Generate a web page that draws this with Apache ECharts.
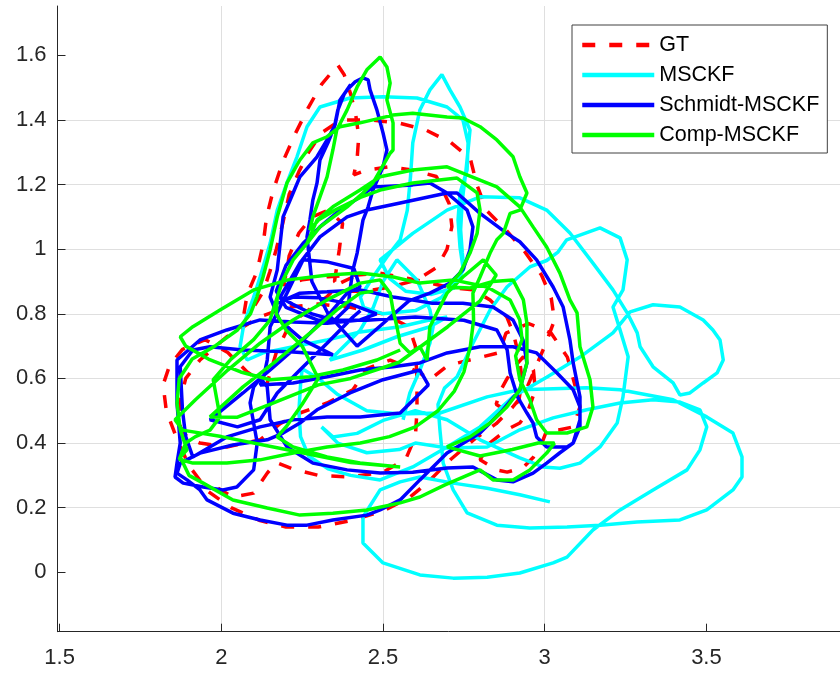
<!DOCTYPE html>
<html><head><meta charset="utf-8">
<script src="https://cdn.jsdelivr.net/npm/echarts@6/dist/echarts.min.js"></script>
<style>html,body{margin:0;padding:0;background:#fff}#c{width:840px;height:673px}</style>
</head><body><div id="c"></div>
<script>
const seriesNames = ['GT', 'MSCKF', 'Schmidt-MSCKF', 'Comp-MSCKF'];
const xTickVals = [1.5, 2, 2.5, 3, 3.5];
const yTickVals = [0, 0.2, 0.4, 0.6, 0.8, 1, 1.2, 1.4, 1.6];

const gt = [
[2.407,0.914],[2.367,0.895],[2.327,0.853],[2.283,0.822],[2.243,0.791],[2.203,0.75],[2.17,0.68],
[2.14,0.58],[2.08,0.62],[2.02,0.68],[1.95,0.72],[1.88,0.69],[1.84,0.64],[1.82,0.58],[1.83,0.5],[1.86,0.42],[1.9,0.33],[1.96,0.25],[2.03,0.2],[2.12,0.16],[2.2,0.14],[2.3,0.14],[2.4,0.16],[2.5,0.19],[2.58,0.23],[2.64,0.28],[2.71,0.35],[2.78,0.41],[2.85,0.46],[2.9,0.51],[2.94,0.56],[2.97,0.63],[3.0,0.7],[3.03,0.78],[3.02,0.85],[2.99,0.92],[2.94,0.99],[2.88,1.06],[2.82,1.12],[2.79,1.2],[2.77,1.28],[2.71,1.33],[2.63,1.37],[2.55,1.39],[2.46,1.4],[2.37,1.4],[2.31,1.36],[2.27,1.3],[2.24,1.24],[2.21,1.17],[2.19,1.08],[2.17,1.0],[2.15,0.93],[2.13,0.87],[2.1,0.82],[2.07,0.8],[2.08,0.86],[2.11,0.93],[2.13,1.02],[2.14,1.1],[2.16,1.18],[2.19,1.27],[2.23,1.36],[2.27,1.44],[2.31,1.51],[2.36,1.57],[2.38,1.54],[2.4,1.48],[2.415,1.42],[2.425,1.35],[2.42,1.28],[2.41,1.23],[2.45,1.245],[2.52,1.255],[2.59,1.245],[2.665,1.225],[2.705,1.14],[2.713,1.07],[2.698,1.0],[2.668,0.945],[2.605,0.905],[2.53,0.885],[2.45,0.87],[2.39,0.87],[2.35,0.9],[2.365,1.0],[2.375,1.08],[2.33,1.12],[2.28,1.1],[2.24,1.05],[2.21,0.98],[2.2,0.92],[2.19,0.89],[2.25,0.905],[2.33,0.915],[2.42,0.92],[2.49,0.926],[2.553,0.914],[2.624,0.9],[2.698,0.883],[2.778,0.874],[2.831,0.843],[2.883,0.79],[2.903,0.74],[2.92,0.67],[2.93,0.6],[2.92,0.53],[2.88,0.5],[2.85,0.52],[2.862,0.56],[2.884,0.6],[2.91,0.64],[2.934,0.667],[2.965,0.626],[2.971,0.565],[2.946,0.493],[2.923,0.462],[2.88,0.44],[2.83,0.4],[2.8,0.348],[2.852,0.317],[2.884,0.31],[2.934,0.325],[2.965,0.356],[2.995,0.41],[3.007,0.441],[3.047,0.441],[3.088,0.45],[3.109,0.512],[3.1,0.555],[3.07,0.666],[3.02,0.74],[2.95,0.77],[2.88,0.74],[2.86,0.68],[2.78,0.66],[2.7,0.64],[2.645,0.596],[2.614,0.617],[2.574,0.636],[2.522,0.657],[2.45,0.63],[2.407,0.565],[2.327,0.524],[2.243,0.493],[2.182,0.46],[2.12,0.41],[2.017,0.388],[1.934,0.4],[1.894,0.419],[1.873,0.45],[1.87,0.52],[1.89,0.6],[1.934,0.657],[2.017,0.729],[2.12,0.791],[2.2,0.82],[2.3,0.83],[2.4,0.82],[2.5,0.8],[2.58,0.76],[2.6,0.7],[2.605,0.6],[2.605,0.5],[2.6,0.42],[2.57,0.35],[2.5,0.31],[2.4,0.295],[2.3,0.3],[2.22,0.32],[2.17,0.34],[2.142,0.307],[2.1,0.245],[2.036,0.233],[1.99,0.26]
];

const msckf = [
[2.562,0.472],[2.583,0.555],[2.614,0.626],[2.645,0.709],[2.655,0.76],[2.645,0.812],[2.605,0.905],[2.543,0.967],[2.5,0.9],[2.47,0.82],[2.43,0.75],[2.336,0.657],[2.438,0.688],[2.543,0.729],[2.645,0.76],[2.698,0.79],[2.64,0.78],
[2.553,0.76],[2.43,0.744],[2.327,0.719],[2.222,0.698],[2.129,0.679],[2.08,0.657],[2.058,0.698],[2.07,0.77],[2.097,0.843],[2.12,0.914],[2.151,1.018],[2.173,1.121],[2.203,1.205],[2.234,1.286],[2.265,1.379],[2.305,1.44],[2.398,1.468],[2.5,1.472],[2.605,1.468],[2.698,1.44],[2.747,1.4],[2.763,1.329],[2.76,1.245],[2.738,1.174],[2.732,1.09],[2.738,1.007],[2.747,0.945],[2.729,0.905],[2.68,0.85],[2.6,0.81],[2.5,0.8],[2.44,0.82],[2.43,0.852],[2.469,0.914],[2.512,0.976],[2.553,1.029],[2.575,1.12],[2.585,1.224],[2.592,1.329],[2.614,1.431],[2.645,1.493],[2.682,1.54],[2.707,1.493],[2.738,1.44],[2.769,1.369],[2.763,1.307],[2.755,1.23],[2.745,1.15],[2.74,1.06],[2.745,0.99],[2.75,0.94],[2.72,0.88],[2.65,0.86],[2.57,0.87],[2.52,0.91],[2.491,0.967],[2.592,1.049],[2.698,1.121],[2.8,1.162],[2.923,1.159],[3.006,1.121],[3.078,1.05],[3.149,0.957],[3.211,0.874],[3.255,0.803],[3.286,0.741],[3.295,0.698],[3.335,0.636],[3.397,0.586],[3.418,0.549],[3.449,0.555],[3.49,0.586],[3.533,0.617],[3.552,0.657],[3.542,0.719],[3.52,0.75],[3.49,0.781],[3.418,0.821],[3.335,0.828],[3.264,0.806],[3.211,0.741],[3.109,0.666],[3.006,0.604],[2.902,0.543],[2.8,0.45],[2.698,0.388],[2.592,0.326],[2.491,0.286],[2.4,0.3],[2.33,0.32],[2.27,0.36],[2.245,0.42],[2.24,0.5],[2.245,0.58],[2.25,0.63],[2.3,0.6],[2.36,0.55],[2.45,0.5],[2.55,0.49],[2.676,0.493],[2.822,0.543],[2.923,0.565],[3.13,0.571],[3.233,0.565],[3.397,0.534],[3.501,0.481],[3.582,0.431],[3.61,0.357],[3.61,0.295],[3.582,0.255],[3.501,0.193],[3.418,0.162],[3.285,0.156],[3.171,0.146],[3.069,0.14],[2.954,0.137],[2.852,0.146],[2.76,0.184],[2.717,0.255],[2.686,0.338],[2.676,0.441],[2.67,0.52],[2.69,0.57],[2.729,0.605],[2.778,0.709],[2.831,0.812],[2.883,0.883],[2.954,0.945],[3.006,0.965],[3.04,0.99],[3.068,1.029],[3.171,1.066],[3.233,1.035],[3.255,0.967],[3.242,0.874],[3.211,0.821],[3.233,0.75],[3.258,0.667],[3.242,0.543],[3.224,0.462],[3.171,0.388],[3.109,0.338],[3.047,0.322],[2.995,0.326],[2.923,0.354],[2.8,0.41],[2.698,0.472],[2.6,0.5],[2.5,0.47],[2.42,0.43],[2.345,0.419],[2.31,0.45],[2.36,0.4],[2.45,0.37],[2.55,0.38],[2.6,0.4],[2.7,0.385],[2.822,0.388],[2.923,0.441],[3.026,0.478],[3.13,0.503],[3.233,0.524],[3.335,0.534],[3.418,0.527],[3.48,0.503],[3.501,0.45],[3.48,0.379],[3.44,0.317],[3.335,0.255],[3.233,0.193],[3.149,0.131],[3.069,0.047],[3.026,0.029],[2.923,-0.002],[2.822,-0.015],[2.717,-0.018],[2.614,-0.008],[2.5,0.029],[2.438,0.091],[2.438,0.171],[2.491,0.255],[2.553,0.28],[2.614,0.295],[2.717,0.276],[2.822,0.26],[2.923,0.24],[3.016,0.218]
];

const schmidt = [
[2.43,0.81],[2.407,0.79],[2.327,0.709],[2.243,0.626],[2.173,0.555],[2.12,0.472],[2.05,0.45],[1.965,0.472],[2.067,0.555],[2.151,0.626],[2.222,0.688],[2.274,0.74],[2.336,0.802],[2.389,0.864],[2.429,0.883],[2.41,0.94],[2.33,0.96],[2.253,0.967],[2.203,0.864],[2.151,0.76],[2.142,0.657],[2.129,0.596],
[2.12,0.58],[2.222,0.586],[2.327,0.605],[2.429,0.626],[2.531,0.636],[2.614,0.648],[2.698,0.679],[2.8,0.698],[2.902,0.698],[2.975,0.679],[3.038,0.617],[3.088,0.565],[3.109,0.512],[3.109,0.45],[3.088,0.4],[3.047,0.37],[3.006,0.338],[2.964,0.307],[2.902,0.28],[2.852,0.286],[2.778,0.326],[2.698,0.323],[2.592,0.31],[2.491,0.307],[2.389,0.317],[2.283,0.338],[2.203,0.388],[2.151,0.472],[2.142,0.574],[2.12,0.6],[2.1,0.574],[2.089,0.524],[2.111,0.4],[2.1,0.317],[2.048,0.264],[2.005,0.255],[1.944,0.264],[1.882,0.276],[1.857,0.295],[1.863,0.338],[1.873,0.4],[1.863,0.524],[1.863,0.62],[1.863,0.657],[1.934,0.719],[2.017,0.75],[2.12,0.781],[2.222,0.775],[2.327,0.771],[2.429,0.781],[2.48,0.8],[2.4,0.83],[2.3,0.85],[2.222,0.852],[2.173,0.833],[2.243,0.864],[2.327,0.868],[2.429,0.874],[2.531,0.852],[2.592,0.843],[2.65,0.833],[2.747,0.833],[2.84,0.821],[2.902,0.781],[2.933,0.719],[2.945,0.648],[2.923,0.565],[2.862,0.493],[2.8,0.431],[2.698,0.369],[2.614,0.286],[2.553,0.224],[2.491,0.193],[2.45,0.177],[2.345,0.162],[2.265,0.146],[2.203,0.146],[2.12,0.162],[2.036,0.183],[1.956,0.224],[1.934,0.255],[1.894,0.286],[1.863,0.307],[1.873,0.338],[1.934,0.369],[2.036,0.394],[2.142,0.41],[2.191,0.431],[2.243,0.462],[2.296,0.503],[2.398,0.555],[2.5,0.596],[2.614,0.626],[2.64,0.58],[2.553,0.493],[2.429,0.481],[2.327,0.481],[2.222,0.472],[2.12,0.45],[2.017,0.419],[1.912,0.357],[1.89,0.42],[1.88,0.5],[1.873,0.636],[1.912,0.688],[1.965,0.698],[2.067,0.688],[2.222,0.682],[2.345,0.673],[2.25,0.72],[2.18,0.78],[2.151,0.852],[2.173,0.936],[2.182,1.018],[2.191,1.1],[2.222,1.174],[2.243,1.224],[2.296,1.286],[2.327,1.338],[2.352,1.385],[2.367,1.462],[2.389,1.493],[2.414,1.518],[2.438,1.53],[2.454,1.524],[2.46,1.493],[2.481,1.431],[2.5,1.36],[2.512,1.307],[2.5,1.255],[2.469,1.183],[2.454,1.131],[2.438,1.09],[2.429,1.038],[2.42,0.988],[2.407,0.936],[2.398,0.874],[2.392,0.82],[2.35,0.78],[2.28,0.8],[2.22,0.83],[2.182,0.852],[2.243,0.957],[2.305,1.038],[2.389,1.1],[2.45,1.121],[2.553,1.143],[2.698,1.174],[2.729,1.174],[2.8,1.111],[2.883,1.049],[2.923,1.023],[2.975,0.967],[3.026,0.883],[3.057,0.821],[3.078,0.719],[3.088,0.648],[3.109,0.543],[3.109,0.472],[3.088,0.4],[3.069,0.388],[3.006,0.388],[2.975,0.419],[2.964,0.462],[2.945,0.493],[2.916,0.543],[2.893,0.617],[2.884,0.688],[2.852,0.75],[2.75,0.78],[2.6,0.79],[2.45,0.78],[2.3,0.78],[2.2,0.82],[2.17,0.87],[2.2,0.95],[2.253,1.018],[2.305,1.069],[2.367,1.121],[2.429,1.162],[2.469,1.193],[2.491,1.193],[2.592,1.199],[2.645,1.205],[2.698,1.174],[2.76,1.121],[2.778,1.069],[2.769,0.998],[2.747,0.936],[2.707,0.895],[2.645,0.864],[2.58,0.84],[2.5,0.77],[2.42,0.7],[2.33,0.8],[2.28,0.9],[2.265,1.038],[2.274,1.09],[2.283,1.152],[2.296,1.205],[2.305,1.276],[2.33,1.33],[2.35,1.38],[2.36,1.43],[2.38,1.48],[2.4,1.51]
];

const comp = [
[2.553,0.688],[2.481,0.657],[2.376,0.626],[2.274,0.605],[2.151,0.596],[2.06,0.62],[1.96,0.66],[1.89,0.7],[1.873,0.729],[1.912,0.76],[1.996,0.812],[2.1,0.874],[2.206,0.905],[2.33,0.92],[2.43,0.926],[2.532,0.914],[2.614,0.895],[2.717,0.905],[2.822,0.883],[2.893,0.843],[2.923,0.781],[2.93,0.72],[2.91,0.67],[2.923,0.596],[2.954,0.534],[2.975,0.472],[3.006,0.431],[3.069,0.431],[3.13,0.45],[3.149,0.512],[3.14,0.596],[3.109,0.698],[3.1,0.803],[3.078,0.843],[3.047,0.926],[3.006,1.007],[2.964,1.069],[2.923,1.131],[2.852,1.193],[2.8,1.214],[2.698,1.255],[2.592,1.245],[2.491,1.224],[2.429,1.183],[2.345,1.131],[2.296,1.09],[2.265,1.018],[2.222,0.967],[2.191,0.905],[2.173,0.852],[2.15,0.78],[2.1,0.72],[2.03,0.66],[1.975,0.596],[1.996,0.481],[1.965,0.44],[1.92,0.42],[1.89,0.4],[1.87,0.35],[1.912,0.338],[2.017,0.338],[2.12,0.348],[2.222,0.369],[2.327,0.388],[2.43,0.4],[2.52,0.42],[2.6,0.45],[2.67,0.5],[2.72,0.56],[2.75,0.62],[2.77,0.7],[2.78,0.78],[2.778,0.864],[2.8,0.914],[2.831,0.988],[2.852,1.029],[2.872,1.049],[2.893,1.111],[2.923,1.121],[2.945,1.174],[2.923,1.224],[2.902,1.286],[2.852,1.338],[2.8,1.379],[2.747,1.406],[2.698,1.409],[2.592,1.421],[2.531,1.415],[2.429,1.391],[2.367,1.379],[2.327,1.348],[2.283,1.329],[2.243,1.276],[2.203,1.205],[2.173,1.1],[2.151,0.998],[2.129,0.914],[2.11,0.852],[2.09,0.8],[2.05,0.75],[1.98,0.7],[1.91,0.66],[1.87,0.6],[1.863,0.524],[1.873,0.441],[1.894,0.379],[1.873,0.357],[1.9,0.3],[1.944,0.276],[2.036,0.224],[2.142,0.199],[2.243,0.177],[2.345,0.183],[2.45,0.193],[2.553,0.215],[2.614,0.233],[2.69,0.27],[2.76,0.3],[2.8,0.317],[2.84,0.286],[2.902,0.286],[2.954,0.317],[3.006,0.369],[3.03,0.4],[2.98,0.4],[2.9,0.38],[2.8,0.36],[2.698,0.388],[2.769,0.419],[2.831,0.462],[2.883,0.512],[2.923,0.565],[2.945,0.648],[2.945,0.771],[2.934,0.843],[2.902,0.905],[2.84,0.9],[2.77,0.88],[2.698,0.883],[2.738,0.926],[2.769,0.988],[2.791,1.049],[2.8,1.121],[2.791,1.174],[2.729,1.22],[2.592,1.205],[2.491,1.183],[2.43,1.16],[2.35,1.12],[2.3,1.09],[2.274,1.059],[2.283,1.1],[2.305,1.162],[2.327,1.224],[2.345,1.307],[2.357,1.369],[2.389,1.431],[2.42,1.502],[2.45,1.555],[2.491,1.595],[2.512,1.564],[2.522,1.514],[2.512,1.462],[2.531,1.391],[2.531,1.307],[2.522,1.297],[2.469,1.205],[2.438,1.174],[2.389,1.131],[2.305,1.069],[2.265,1.018],[2.222,0.967],[2.191,0.905],[2.173,0.852],[2.17,0.8],[2.2,0.75],[2.25,0.7],[2.3,0.6],[2.25,0.52],[2.2,0.45],[2.173,0.419],[2.222,0.388],[2.327,0.357],[2.429,0.338],[2.553,0.326],
[2.4,0.34],[2.2,0.38],[2.0,0.42],[1.88,0.44],[1.857,0.472],[1.92,0.534],[2.02,0.626],[2.12,0.709],[2.222,0.781],[2.327,0.843],[2.429,0.895],[2.491,0.905],[2.522,0.864],[2.531,0.812],[2.543,0.76],[2.553,0.709],[2.583,0.679],[2.614,0.698],[2.636,0.657],[2.645,0.76],[2.698,0.864],[2.747,0.914],[2.81,0.967],[2.85,0.92],[2.8,0.84],[2.7,0.76],[2.55,0.65],[2.4,0.6],[2.3,0.58],[2.15,0.52],[2.05,0.48],[1.965,0.481],[2.067,0.574],[2.173,0.657],[2.274,0.74],[2.357,0.812],[2.429,0.864],[2.47,0.87]
];

const FONT = '"Liberation Sans", Arial, Helvetica, sans-serif';
const AX = '#262626';
const chart = echarts.init(document.getElementById('c'), null, {renderer: 'canvas'});
function fmt(v) { return String(Math.round(v * 100) / 100); }
function mkSeries(name, data, color, type) {
  return {
    name: name, type: 'line', data: data, symbol: 'none', showSymbol: false,
    color: color, lineStyle: {color: color, width: 3.5, type: type},
    itemStyle: {color: color}, clip: true, silent: true,
    emphasis: {disabled: true}, animation: false
  };
}
chart.setOption({
  animation: false,
  backgroundColor: '#ffffff',
  grid: {left: 57.5, right: 0, top: 6, bottom: 41.3, containLabel: false},
  xAxis: {
    type: 'value', min: 1.4935, max: 3.913, splitNumber: 5, minInterval: 0.5, maxInterval: 0.5,
    axisLine: {show: true, onZero: false, lineStyle: {color: AX, width: 1}},
    axisTick: {show: true, inside: true, length: 8, customValues: xTickVals, lineStyle: {color: AX, width: 1}},
    axisLabel: {show: true, customValues: xTickVals, margin: 15, color: AX, fontSize: 22, fontFamily: FONT, formatter: fmt},
    splitLine: {show: true, showMinLine: false, showMaxLine: false, lineStyle: {color: '#dfdfdf', width: 1}}
  },
  yAxis: {
    type: 'value', min: -0.1838, max: 1.7526, splitNumber: 10, minInterval: 0.2, maxInterval: 0.2,
    axisLine: {show: true, onZero: false, lineStyle: {color: AX, width: 1}},
    axisTick: {show: true, inside: true, length: 8, customValues: yTickVals, lineStyle: {color: AX, width: 1}},
    axisLabel: {show: true, customValues: yTickVals, margin: 11, color: AX, fontSize: 22, fontFamily: FONT, formatter: fmt},
    splitLine: {show: true, showMinLine: false, showMaxLine: false, lineStyle: {color: '#dfdfdf', width: 1}}
  },
  legend: {
    data: seriesNames, orient: 'vertical', left: 572, top: 25,
    itemWidth: 72, itemHeight: 14, itemGap: 8, padding: [9, 8, 7, 8],
    borderColor: '#404040', borderWidth: 1, backgroundColor: '#ffffff',
    itemStyle: {opacity: 0},
    lineStyle: {width: 4.5},
    textStyle: {fontSize: 21.5, color: '#000000', fontFamily: FONT, lineHeight: 22, padding: [0, 0, 0, 0]}
  },
  series: [
    mkSeries(seriesNames[0], gt, '#ff0000', [13, 14]),
    mkSeries(seriesNames[1], msckf, '#00ffff', 'solid'),
    mkSeries(seriesNames[2], schmidt, '#0000ff', 'solid'),
    mkSeries(seriesNames[3], comp, '#00ff00', 'solid')
  ]
});
</script></body></html>
